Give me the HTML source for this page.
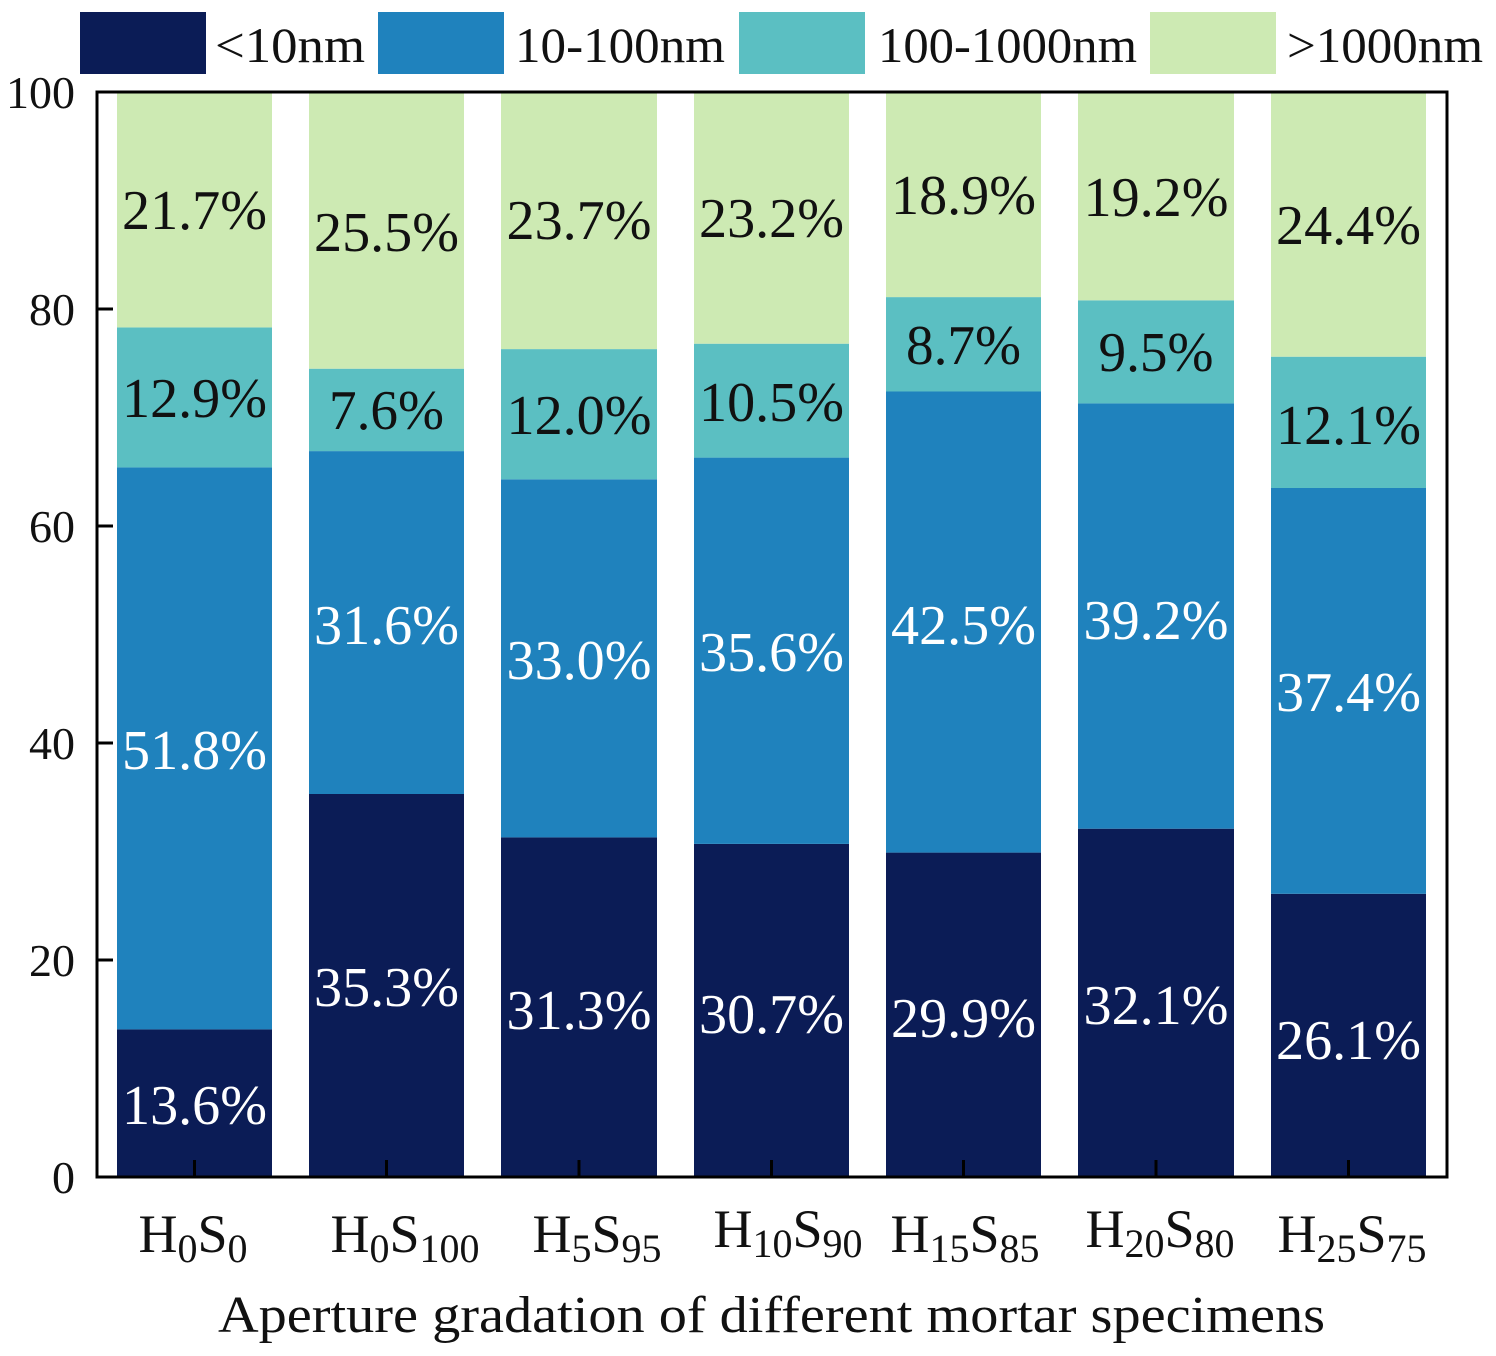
<!DOCTYPE html>
<html><head><style>body{margin:0;background:#fff}svg{display:block}text{font-family:"Liberation Serif",serif}</style></head>
<body>
<svg width="1496" height="1356" xmlns="http://www.w3.org/2000/svg">
<rect width="1496" height="1356" fill="#fff"/>
<g font-size="50" fill="#111">
<rect x="80" y="12" width="126" height="62" fill="#0b1c56"/><text x="215" y="62" textLength="150" lengthAdjust="spacingAndGlyphs">&lt;10nm</text>
<rect x="378" y="12" width="126" height="62" fill="#1f82bd"/><text x="515" y="62" textLength="210" lengthAdjust="spacingAndGlyphs">10-100nm</text>
<rect x="739" y="12" width="126" height="62" fill="#5bbfc2"/><text x="878" y="62" textLength="259" lengthAdjust="spacingAndGlyphs">100-1000nm</text>
<rect x="1150" y="12" width="126" height="62" fill="#cdeab3"/><text x="1287" y="62" textLength="196" lengthAdjust="spacingAndGlyphs">&gt;1000nm</text>
</g>
<g>
<rect x="117" y="1029.4" width="155" height="147.6" fill="#0b1c56"/><rect x="117" y="467.4" width="155" height="562" fill="#1f82bd"/><rect x="117" y="327.4" width="155" height="140" fill="#5bbfc2"/><rect x="117" y="92" width="155" height="235.4" fill="#cdeab3"/>
<rect x="309" y="794" width="155" height="383" fill="#0b1c56"/><rect x="309" y="451.1" width="155" height="342.9" fill="#1f82bd"/><rect x="309" y="368.7" width="155" height="82.4" fill="#5bbfc2"/><rect x="309" y="92" width="155" height="276.7" fill="#cdeab3"/>
<rect x="501" y="837.4" width="156" height="339.6" fill="#0b1c56"/><rect x="501" y="479.3" width="156" height="358.1" fill="#1f82bd"/><rect x="501" y="349.1" width="156" height="130.2" fill="#5bbfc2"/><rect x="501" y="92" width="156" height="257.1" fill="#cdeab3"/>
<rect x="694" y="843.9" width="155" height="333.1" fill="#0b1c56"/><rect x="694" y="457.6" width="155" height="386.3" fill="#1f82bd"/><rect x="694" y="343.7" width="155" height="113.9" fill="#5bbfc2"/><rect x="694" y="92" width="155" height="251.7" fill="#cdeab3"/>
<rect x="886" y="852.6" width="155" height="324.4" fill="#0b1c56"/><rect x="886" y="391.5" width="155" height="461.1" fill="#1f82bd"/><rect x="886" y="297.1" width="155" height="94.4" fill="#5bbfc2"/><rect x="886" y="92" width="155" height="205.1" fill="#cdeab3"/>
<rect x="1078" y="828.7" width="156" height="348.3" fill="#0b1c56"/><rect x="1078" y="403.4" width="156" height="425.3" fill="#1f82bd"/><rect x="1078" y="300.3" width="156" height="103.1" fill="#5bbfc2"/><rect x="1078" y="92" width="156" height="208.3" fill="#cdeab3"/>
<rect x="1271" y="893.8" width="155" height="283.2" fill="#0b1c56"/><rect x="1271" y="488" width="155" height="405.8" fill="#1f82bd"/><rect x="1271" y="356.7" width="155" height="131.3" fill="#5bbfc2"/><rect x="1271" y="92" width="155" height="264.7" fill="#cdeab3"/>
</g>
<g font-size="56" text-anchor="middle">
<g fill="#fff">
<text x="194.5" y="1124" textLength="145" lengthAdjust="spacingAndGlyphs">13.6%</text><text x="194.5" y="769" textLength="145" lengthAdjust="spacingAndGlyphs">51.8%</text>
<text x="386.5" y="1006" textLength="145" lengthAdjust="spacingAndGlyphs">35.3%</text><text x="386.5" y="644" textLength="145" lengthAdjust="spacingAndGlyphs">31.6%</text>
<text x="579" y="1029" textLength="145" lengthAdjust="spacingAndGlyphs">31.3%</text><text x="579" y="679" textLength="145" lengthAdjust="spacingAndGlyphs">33.0%</text>
<text x="771.5" y="1033" textLength="145" lengthAdjust="spacingAndGlyphs">30.7%</text><text x="771.5" y="671" textLength="145" lengthAdjust="spacingAndGlyphs">35.6%</text>
<text x="963.5" y="1037" textLength="145" lengthAdjust="spacingAndGlyphs">29.9%</text><text x="963.5" y="644" textLength="145" lengthAdjust="spacingAndGlyphs">42.5%</text>
<text x="1156" y="1024" textLength="145" lengthAdjust="spacingAndGlyphs">32.1%</text><text x="1156" y="639" textLength="145" lengthAdjust="spacingAndGlyphs">39.2%</text>
<text x="1348.5" y="1059" textLength="145" lengthAdjust="spacingAndGlyphs">26.1%</text><text x="1348.5" y="711" textLength="145" lengthAdjust="spacingAndGlyphs">37.4%</text>
</g>
<g fill="#111">
<text x="194.5" y="417" textLength="145" lengthAdjust="spacingAndGlyphs">12.9%</text><text x="194.5" y="229" textLength="145" lengthAdjust="spacingAndGlyphs">21.7%</text>
<text x="386.5" y="429" textLength="115" lengthAdjust="spacingAndGlyphs">7.6%</text><text x="386.5" y="251" textLength="145" lengthAdjust="spacingAndGlyphs">25.5%</text>
<text x="579" y="434" textLength="145" lengthAdjust="spacingAndGlyphs">12.0%</text><text x="579" y="239" textLength="145" lengthAdjust="spacingAndGlyphs">23.7%</text>
<text x="771.5" y="421" textLength="145" lengthAdjust="spacingAndGlyphs">10.5%</text><text x="771.5" y="237" textLength="145" lengthAdjust="spacingAndGlyphs">23.2%</text>
<text x="963.5" y="364" textLength="115" lengthAdjust="spacingAndGlyphs">8.7%</text><text x="963.5" y="214" textLength="145" lengthAdjust="spacingAndGlyphs">18.9%</text>
<text x="1156" y="371" textLength="115" lengthAdjust="spacingAndGlyphs">9.5%</text><text x="1156" y="216" textLength="145" lengthAdjust="spacingAndGlyphs">19.2%</text>
<text x="1348.5" y="444" textLength="145" lengthAdjust="spacingAndGlyphs">12.1%</text><text x="1348.5" y="244" textLength="145" lengthAdjust="spacingAndGlyphs">24.4%</text>
</g>
</g>
<g stroke="#000" stroke-width="3">
<line x1="194.5" y1="1177" x2="194.5" y2="1160"/><line x1="386.5" y1="1177" x2="386.5" y2="1160"/><line x1="579" y1="1177" x2="579" y2="1160"/><line x1="771.5" y1="1177" x2="771.5" y2="1160"/><line x1="963.5" y1="1177" x2="963.5" y2="1160"/><line x1="1156" y1="1177" x2="1156" y2="1160"/><line x1="1348.5" y1="1177" x2="1348.5" y2="1160"/>
<line x1="97" y1="960" x2="113" y2="960"/><line x1="97" y1="743" x2="113" y2="743"/><line x1="97" y1="526" x2="113" y2="526"/><line x1="97" y1="309" x2="113" y2="309"/>
<rect x="97" y="92" width="1350" height="1085" fill="none"/>
</g>
<g font-size="46" fill="#111" text-anchor="end">
<text x="75" y="1193">0</text><text x="75" y="976">20</text><text x="75" y="759">40</text><text x="75" y="542">60</text><text x="75" y="325">80</text><text x="75" y="108">100</text>
</g>
<g font-size="54" fill="#111" text-anchor="middle">
<text x="193" y="1252">H<tspan font-size="40" dy="10">0</tspan><tspan dy="-10">S</tspan><tspan font-size="40" dy="10">0</tspan></text>
<text x="405" y="1252">H<tspan font-size="40" dy="10">0</tspan><tspan dy="-10">S</tspan><tspan font-size="40" dy="10">100</tspan></text>
<text x="597" y="1252">H<tspan font-size="40" dy="10">5</tspan><tspan dy="-10">S</tspan><tspan font-size="40" dy="10">95</tspan></text>
<text x="788" y="1247">H<tspan font-size="40" dy="10">10</tspan><tspan dy="-10">S</tspan><tspan font-size="40" dy="10">90</tspan></text>
<text x="965" y="1252">H<tspan font-size="40" dy="10">15</tspan><tspan dy="-10">S</tspan><tspan font-size="40" dy="10">85</tspan></text>
<text x="1160" y="1247">H<tspan font-size="40" dy="10">20</tspan><tspan dy="-10">S</tspan><tspan font-size="40" dy="10">80</tspan></text>
<text x="1352" y="1252">H<tspan font-size="40" dy="10">25</tspan><tspan dy="-10">S</tspan><tspan font-size="40" dy="10">75</tspan></text>
</g>
<text x="218" y="1332" font-size="52" fill="#111" textLength="1107" lengthAdjust="spacingAndGlyphs">Aperture gradation of different mortar specimens</text>
</svg>
</body></html>
